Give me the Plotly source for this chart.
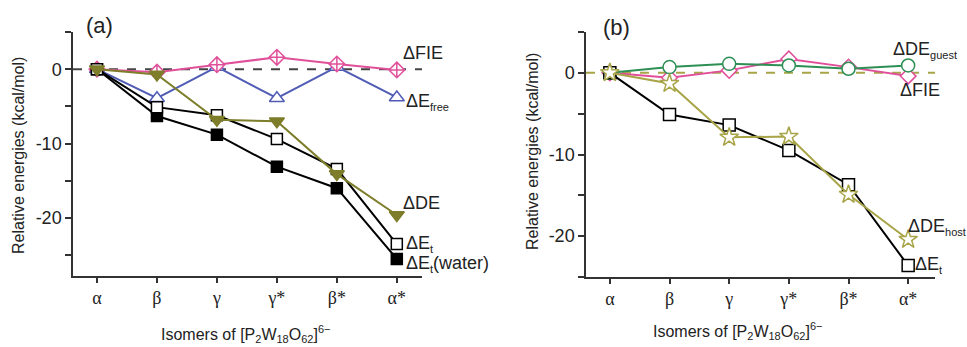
import plotly.graph_objects as go

W, H = 967, 347

categories = ["α", "β", "γ", "γ*", "β*", "α*"]
ytick_vals = [5, 0, -5, -10, -15, -20, -25]
ytick_text = ["", "0", "", "-10", "", "-20", ""]

# Panel (a)
a_fie = [0, -0.4, 0.6, 1.6, 0.7, -0.1]
a_efree = [0, -3.9, 0.3, -3.9, 0.3, -3.8]
a_de = [0, -0.7, -6.8, -7.0, -14.1, -19.6]
a_et = [0, -5.1, -6.2, -9.4, -13.4, -23.5]
a_et_water = [0, -6.3, -8.8, -13.1, -16.0, -25.5]

# Panel (b)
b_de_guest = [0, 0.7, 1.1, 0.9, 0.5, 0.9]
b_fie = [0, -0.6, 0.3, 1.7, 0.7, -0.4]
b_de_host = [0, -1.3, -7.9, -7.8, -14.9, -20.4]
b_et = [0, -5.1, -6.4, -9.5, -13.7, -23.6]

PINK = "#e0509a"
BLUE = "#4f5bb5"
OLIVE = "#7d7d2a"
OLIVE_L = "#a8a448"
GREEN = "#2e8f55"
AX = "#333333"
FONT = "Liberation Sans, Arial, sans-serif"
SERIF = "Liberation Serif"


def px(x):
    return x / W


def py(y):
    return 1 - y / H


fig = go.Figure()


def add(xa, ya, y, color, symbol, fill, size, lw=2):
    fig.add_trace(go.Scatter(
        x=categories, y=y, xaxis=xa, yaxis=ya, mode="lines+markers",
        line=dict(color=color, width=lw),
        marker=dict(symbol=symbol, size=size, color=fill,
                    line=dict(color=color, width=1.5)),
        showlegend=False, cliponaxis=False))


# zero reference lines
for xa, ya, col in (("x", "y", "#444444"), ("x2", "y2", OLIVE_L)):
    fig.add_shape(type="line", xref=f"{xa} domain", yref=ya, x0=0, x1=1,
                  y0=0, y1=0, line=dict(color=col, width=2, dash="dash"),
                  layer="below")

# panel a traces
add("x", "y", a_efree, BLUE, "triangle-up", "white", 13)
add("x", "y", a_fie, PINK, "diamond-cross", "white", 12)
add("x", "y", a_et_water, "black", "square", "black", 11)
add("x", "y", a_et, "black", "square", "white", 11)
add("x", "y", a_de, OLIVE, "triangle-down", OLIVE, 13)

# panel b traces
add("x2", "y2", b_fie, PINK, "diamond", "white", 12)
add("x2", "y2", b_de_guest, GREEN, "circle", "white", 13)
add("x2", "y2", b_et, "black", "square", "white", 12)
add("x2", "y2", b_de_host, OLIVE_L, "star", "white", 14, lw=2)

xcommon = dict(type="category", showline=True, linecolor=AX, linewidth=1.5,
               ticks="outside", ticklen=5, tickcolor=AX, tickwidth=1.5,
               showgrid=False, zeroline=False,
               tickfont=dict(family=SERIF, size=18, color="#222"))
ycommon = dict(showline=True, linecolor=AX, linewidth=1.5,
               ticks="outside", ticklen=6, tickcolor=AX, tickwidth=1.5,
               tickmode="array", tickvals=ytick_vals, ticktext=ytick_text,
               showgrid=False, zeroline=False,
               tickfont=dict(family=FONT, size=18, color="#222"))

fig.update_layout(
    width=W, height=H, margin=dict(l=0, r=0, t=0, b=0),
    paper_bgcolor="white", plot_bgcolor="white",
    font=dict(family=FONT, color="#222"),
    xaxis=dict(domain=[px(73), px(422)], range=[-0.4, 5.42], anchor="y",
               **xcommon),
    yaxis=dict(domain=[py(276), py(32)], range=[-27.8, 5], anchor="x",
               **ycommon),
    xaxis2=dict(domain=[px(586), px(935)], range=[-0.4, 5.45], anchor="y2",
                **xcommon),
    yaxis2=dict(domain=[py(277), py(32)], range=[-25, 5], anchor="x2",
                **ycommon),
)


def label(x, y, text, size=18, xanchor="left", **kw):
    fig.add_annotation(x=px(x), y=py(y), xref="paper", yref="paper",
                       text=text, showarrow=False, xanchor=xanchor,
                       yanchor="middle", font=dict(size=size, family=FONT,
                                                   color="#222"), **kw)


sub = lambda s: f"<sub><span style='font-size:11px'>{s}</span></sub>"

# panel a labels
label(84, 25, "(a)", size=22)
label(401, 53, "ΔFIE")
label(404, 102, "ΔE" + sub("free"))
label(401, 203, "ΔDE")
label(404, 244, "ΔE" + sub("t"))
label(404, 264, "ΔE" + sub("t") + "(water)")

# panel b labels
label(601, 28, "(b)", size=22)
label(891, 50, "ΔDE" + sub("guest"))
label(898, 90, "ΔFIE")
label(906, 227, "ΔDE" + sub("host"))
label(913, 265, "ΔE" + sub("t"))

# axis titles
ytitle = "Relative energies (kcal/mol)"
xtitle = ("Isomers of [P" + sub("2") + "W" + sub("18") + "O" + sub("62") +
          "]<sup><span style='font-size:11px'>6−</span></sup>")
label(18, 156, ytitle, size=16, xanchor="center", textangle=-90)
label(532, 152, ytitle, size=16, xanchor="center", textangle=-90)
label(245, 334, xtitle, size=16, xanchor="center")
label(737, 331, xtitle, size=16, xanchor="center")

fig.write_html("out.html")
